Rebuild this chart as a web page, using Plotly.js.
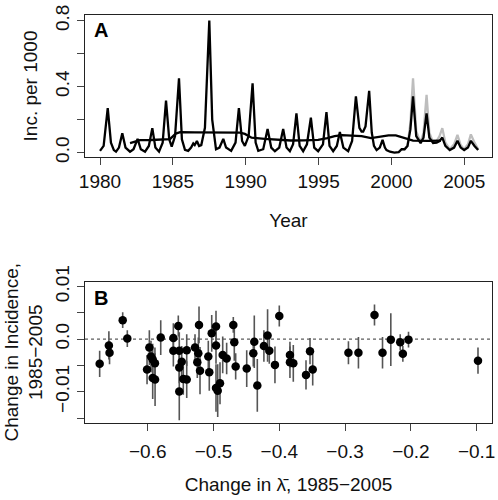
<!DOCTYPE html>
<html>
<head>
<meta charset="utf-8">
<script src="https://cdn.plot.ly/plotly-3.0.1.min.js"></script>
<style>html,body{margin:0;padding:0;background:#fff}#chart{width:498px;height:500px}</style>
</head>
<body>
<div id="chart"></div>
<script>
// ---- Panel A: incidence time series ----
var incYear = [1980.0,1980.25,1980.53,1980.75,1980.95,1981.1,1981.3,1981.53,1981.75,1982.06,1982.3,1982.58,1982.8,1983.09,1983.35,1983.59,1983.8,1984.05,1984.3,1984.53,1984.75,1984.92,1985.15,1985.42,1985.62,1985.83,1986.05,1986.25,1986.4,1986.5,1986.65,1986.8,1986.95,1987.2,1987.5,1987.7,1987.96,1988.2,1988.46,1988.65,1989.0,1989.3,1989.53,1989.75,1989.94,1990.2,1990.47,1990.68,1990.86,1991.2,1991.5,1991.75,1992.0,1992.3,1992.57,1992.8,1993.03,1993.25,1993.48,1993.7,1993.94,1994.2,1994.47,1994.7,1994.97,1995.3,1995.54,1995.75,1996.0,1996.25,1996.46,1996.7,1997.03,1997.3,1997.56,1997.8,1997.95,1998.06,1998.22,1998.47,1998.65,1998.8,1998.98,1999.2,1999.39,1999.55,1999.66,1999.9,2000.2,2000.5,2000.7,2000.9,2001.1,2001.3,2001.48,2001.7,2002.0,2002.2,2002.41,2002.6,2002.86,2003.1,2003.3,2003.49,2003.7,2004.0,2004.3,2004.53,2004.75,2004.99,2005.25,2005.45,2005.7,2005.95];
var incObs = [0.01,0.04,0.27,0.06,0.015,0.005,0.03,0.117,0.03,0.005,0.02,0.083,0.02,0.005,0.04,0.148,0.03,0.005,0.06,0.315,0.08,0.036,0.1,0.45,0.08,0.016,0.01,0.03,0.055,0.045,0.07,0.04,0.045,0.15,0.8,0.2,0.02,0.03,0.083,0.03,0.01,0.06,0.27,0.07,0.04,0.1,0.42,0.06,0.01,0.02,0.143,0.03,0.008,0.03,0.143,0.03,0.008,0.05,0.238,0.04,0.008,0.05,0.212,0.03,0.008,0.05,0.245,0.04,0.008,0.04,0.124,0.03,0.008,0.07,0.34,0.15,0.127,0.127,0.158,0.374,0.12,0.04,0.015,0.03,0.077,0.03,0.015,0.005,0.0,0.003,0.02,0.02,0.04,0.14,0.34,0.1,0.057,0.09,0.238,0.09,0.057,0.06,0.07,0.091,0.04,0.015,0.03,0.071,0.03,0.015,0.03,0.071,0.04,0.015];

var altYear = [2000.7,2000.9,2001.1,2001.3,2001.48,2001.7,2002.0,2002.2,2002.41,2002.6,2002.86,2003.1,2003.3,2003.49,2003.7,2004.0,2004.3,2004.53,2004.75,2004.99,2005.25,2005.45,2005.7,2005.95];
var altInc = [0.02,0.02,0.04,0.18,0.45,0.13,0.06,0.12,0.35,0.12,0.06,0.07,0.1,0.148,0.06,0.02,0.05,0.107,0.045,0.02,0.05,0.11,0.06,0.02];

var trendYear = [1982.06,1982.74,1983.5,1984.2,1984.8,1985.2,1985.5,1986.5,1987.5,1988.5,1989.6,1989.94,1990.4,1991.3,1992.2,1993.1,1994.0,1994.97,1995.6,1996.1,1996.6,1997.2,1997.95,1998.6,1999.2,1999.8,2000.3,2000.9,2001.48,2002.5,2003.4];
var trendInc = [0.057,0.075,0.076,0.077,0.081,0.115,0.124,0.122,0.121,0.121,0.121,0.113,0.09,0.083,0.076,0.073,0.074,0.077,0.088,0.1,0.106,0.104,0.1,0.088,0.097,0.104,0.104,0.09,0.072,0.071,0.072];

// ---- Panel B: change in incidence vs change in lambda-bar ----
var dLambda = [-0.673,-0.659,-0.658,-0.638,-0.631,-0.601,-0.5975,-0.595,-0.5924,-0.589,-0.5924,-0.5888,-0.5802,-0.561,-0.561,-0.5535,-0.552,-0.5483,-0.552,-0.5459,-0.5407,-0.552,-0.5407,-0.5281,-0.522,-0.5231,-0.5246,-0.5205,-0.5079,-0.5064,-0.5027,-0.4962,-0.4962,-0.4962,-0.4936,-0.4901,-0.486,-0.48,-0.4699,-0.4684,-0.4663,-0.4495,-0.438,-0.4395,-0.4334,-0.4234,-0.4178,-0.4152,-0.4066,-0.4,-0.3838,-0.3838,-0.3787,-0.3594,-0.3533,-0.3492,-0.2949,-0.2797,-0.2553,-0.2431,-0.2305,-0.2162,-0.2122,-0.2036,-0.098];
var dInc = [-0.0047,-0.0012,-0.0026,0.0036,0.0001,-0.0058,-0.0016,-0.0033,-0.0039,-0.0046,-0.0074,-0.0077,0.0003,0.0002,-0.0022,0.0025,-0.0022,-0.0043,-0.0054,-0.0076,-0.0077,-0.00995,-0.0021,-0.0016,0.0027,-0.0027,-0.0044,-0.006,-0.0033,-0.0063,0.0011,0.0024,-0.0012,-0.0093,-0.0098,-0.0084,-0.003,-0.0037,0.0027,-0.0006,-0.0052,-0.0056,-0.0005,-0.0027,-0.0088,-0.0013,0.0007,-0.0022,-0.0049,0.0044,-0.003,-0.0044,-0.0046,-0.0068,-0.0023,-0.0058,-0.0026,-0.0026,0.0046,-0.0026,-0.0001,-0.0006,-0.0028,-0.0001,-0.0041];
var dIncErr = [0.0025,0.0027,0.0022,0.0015,0.0016,0.0028,0.0033,0.003,0.003,0.003,0.004,0.005,0.0033,0.0028,0.003,0.002,0.0035,0.003,0.003,0.003,0.0035,0.0055,0.003,0.0025,0.0035,0.003,0.003,0.0045,0.003,0.0035,0.0035,0.003,0.0035,0.0045,0.005,0.004,0.0035,0.003,0.0015,0.0035,0.0025,0.0035,0.005,0.0025,0.005,0.003,0.005,0.0025,0.0035,0.002,0.0025,0.003,0.0035,0.0028,0.0025,0.003,0.0022,0.003,0.002,0.003,0.005,0.0015,0.0015,0.0015,0.0025];

// tick labels
var yearTicks = [1980,1985,1990,1995,2000,2005];
var incTickVals = [0,0.2,0.4,0.6,0.8];
var incTickText = ["0.0","","0.4","","0.8"];
var lamTickVals = [-0.6,-0.5,-0.4,-0.3,-0.2,-0.1];
var lamTickText = ["\u22120.6","\u22120.5","\u22120.4","\u22120.3","\u22120.2","\u22120.1"];
var chgTickVals = [-0.015,-0.01,-0.005,0,0.005,0.01];
var chgTickText = ["","\u22120.01","","0.0","","0.01"];

var FONT = "Liberation Sans, Arial, Helvetica, sans-serif";
var FS = 19;

var traces = [
  {x: altYear, y: altInc, type:'scatter', mode:'lines', xaxis:'x', yaxis:'y',
   line:{color:'#bdbdbd', width:2.3}, showlegend:false, hoverinfo:'skip'},
  {x: trendYear, y: trendInc, type:'scatter', mode:'lines', xaxis:'x', yaxis:'y',
   line:{color:'#000', width:2.3}, showlegend:false},
  {x: incYear, y: incObs, type:'scatter', mode:'lines', xaxis:'x', yaxis:'y',
   line:{color:'#000', width:2.3}, showlegend:false},
  {x: dLambda, y: dInc, type:'scatter', mode:'markers', xaxis:'x2', yaxis:'y2',
   marker:{color:'#000', size:8.5},
   error_y:{type:'data', array:dIncErr, symmetric:true, width:0, thickness:1.6, color:'#555'},
   showlegend:false}
];

var axBase = {
  showline:true, mirror:true, linecolor:'#222', linewidth:1,
  ticks:'outside', ticklen:7, tickwidth:1, tickcolor:'#444',
  showgrid:false, zeroline:false,
  tickfont:{family:FONT, size:FS, color:'#111'}
};
function ax(o){ var r = {}; for (var k in axBase) r[k]=axBase[k]; for (var k2 in o) r[k2]=o[k2]; return r; }
var tf = {family:FONT, size:FS, color:'#111'};

var layout = {
  width:498, height:500,
  margin:{l:85, r:6, t:15, b:77},
  paper_bgcolor:'#fff', plot_bgcolor:'#fff',
  font:{family:FONT, size:FS, color:'#111'},
  xaxis: ax({domain:[0,1], anchor:'y', range:[1978.97,2006.9], tickmode:'array', tickvals:yearTicks,
     title:{text:'Year', font:tf, standoff:22}}),
  yaxis: ax({domain:[0.652,1], anchor:'x', range:[-0.027,0.834], tickmode:'array',
     tickvals:incTickVals, ticktext:incTickText, tickangle:-90,
     title:{text:'Inc. per 1000', font:tf, standoff:9}}),
  xaxis2: ax({domain:[0,1], anchor:'y2', range:[-0.6953,-0.0767], tickmode:'array',
     tickvals:lamTickVals, ticktext:lamTickText, ticklabelstandoff:4,
     title:{text:'Change in \u03bb\u0304, 1985\u22122005', font:tf, standoff:16}}),
  yaxis2: ax({domain:[0,0.3468], anchor:'x2', range:[-0.01595,0.01095], tickmode:'array',
     tickvals:chgTickVals, ticktext:chgTickText, tickangle:-90,
     title:{text:'Change in Incidence,<br>1985\u22122005', font:tf, standoff:4}}),
  shapes:[
    {type:'line', xref:'x2 domain', yref:'y2', x0:0, x1:1, y0:0, y1:0,
     line:{color:'#333', width:1, dash:'dot'}, layer:'below'}
  ],
  annotations:[
    {text:'<b>A</b>', xref:'x domain', yref:'y domain', x:0.018, y:0.985, xanchor:'left', yanchor:'top',
     showarrow:false, font:{family:FONT, size:20, color:'#000'}},
    {text:'<b>B</b>', xref:'x2 domain', yref:'y2 domain', x:0.016, y:0.975, xanchor:'left', yanchor:'top',
     showarrow:false, font:{family:FONT, size:20, color:'#000'}}
  ]
};

Plotly.newPlot('chart', traces, layout, {staticPlot:true, displayModeBar:false});
</script>
</body>
</html>
